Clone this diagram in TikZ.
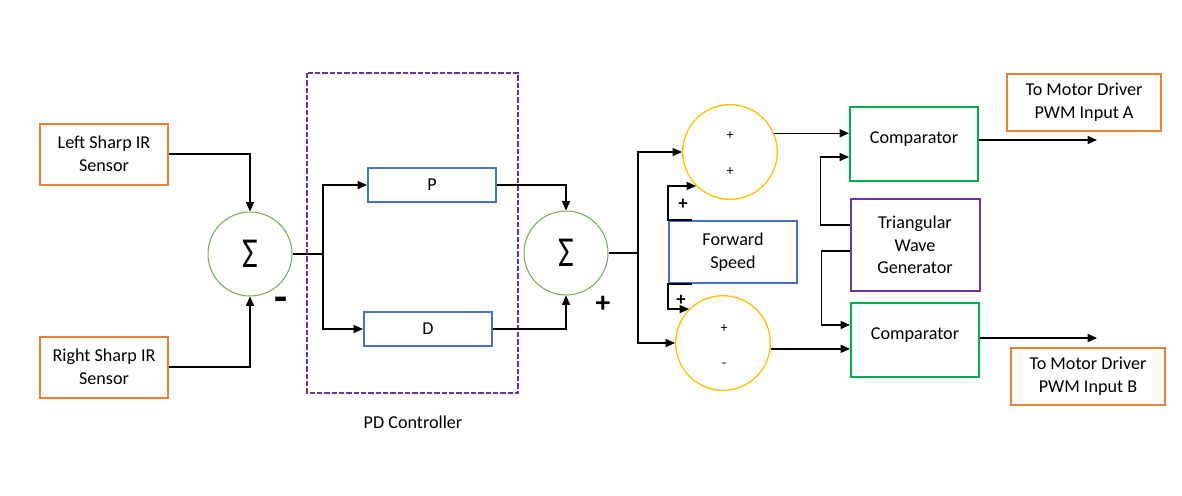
\documentclass[tikz,border=0pt]{standalone}
\usepackage{fontspec}
\setmainfont{Carlito}
\usetikzlibrary{arrows.meta, positioning, calc}

\definecolor{ofcorange}{HTML}{ED7D31}
\definecolor{ofcgreen}{HTML}{70AD47}
\definecolor{ofcblue}{HTML}{4472C4}
\definecolor{ofcyellow}{HTML}{FFC000}
\definecolor{ofcdgreen}{HTML}{00B050}
\definecolor{ofcpurple}{HTML}{7030A0}

\begin{document}
\begin{tikzpicture}[
  x=0.75pt, y=-0.75pt,
  >=Triangle,
  % --- shared block base ---
  blkbase/.style={
    rectangle, line width=1.5pt, align=center, inner sep=2pt,
    font=\fontsize{13.6}{17}\selectfont
  },
  % --- block types ---
  sens/.style={blkbase, draw=ofcorange, minimum width=96pt, minimum height=45.75pt},
  gain/.style={blkbase, draw=ofcblue, minimum width=96pt, minimum height=26pt},
  fwd/.style={blkbase, draw=ofcblue, minimum width=96pt, minimum height=46.5pt},
  comp/.style={blkbase, draw=ofcdgreen, minimum width=96pt, minimum height=56pt,
    text depth=10pt},
  wave/.style={blkbase, draw=ofcpurple, minimum width=96.75pt, minimum height=69pt},
  outbox/.style={blkbase, draw=ofcorange, minimum width=116pt, minimum height=42.75pt},
  % --- summing junctions ---
  sumj/.style={circle, draw=ofcgreen, line width=0.75pt, minimum size=63pt, inner sep=0pt,
    font=\fontsize{32}{32}\selectfont},
  mix/.style={circle, draw=ofcyellow, line width=1pt, minimum size=71pt, inner sep=0pt},
  % --- labels ---
  bigsign/.style={font=\fontsize{22}{22}\selectfont\bfseries, inner sep=0pt},
  midsign/.style={font=\fontsize{14}{14}\selectfont\bfseries, inner sep=0pt},
  smsign/.style={font=\fontsize{10.5}{10.5}\selectfont, inner sep=0pt},
  % --- arrows ---
  arr/.style={->, >={Triangle[length=7pt, width=6pt]}, line width=1pt, draw=black},
  wire/.style={line width=1pt, draw=black},
]
\useasboundingbox (0,0) rectangle (1182,496);

% ===================== SENSORS =====================

\node[sens] (lsens) at (104,154) {Left Sharp IR\\Sensor};
\node[sens] (rsens) at (104,367) {Right Sharp IR\\Sensor};

\node[sumj] (sum1) at (250,254) {\scalebox{0.8}[1]{Σ}};
\node[bigsign, font=\fontsize{32}{32}\selectfont\bfseries] (minus1) at (281,304) {-};

\draw[arr] (lsens.east) -| (sum1.north);
\draw[arr] (rsens.east) -| (sum1.south);

% ===================== PD CONTROLLER =====================

\node[gain] (pgain) at (432,185) {P};
\node[gain] (dgain) at (428,329) {D};
\coordinate (split1) at (323,254);

\draw[wire] (sum1.east) -- (split1);
\draw[arr] (split1) |- (pgain.west);
\draw[arr] (split1) |- (dgain.west);

\draw[ofcpurple, line width=1.5pt, dash pattern=on 4pt off 1.5pt]
  (307,73) rectangle (518,393);
\node[font=\fontsize{13.6}{17}\selectfont] (pdlbl) at (413,422) {PD Controller};

\node[sumj] (sum2) at (566,253) {\scalebox{0.8}[1]{Σ}};
\node[bigsign] (plus2) at (603,304) {+};

\draw[arr] (pgain.east) -| (sum2.north);
\draw[arr] (dgain.east) -| (sum2.south);

% ===================== SPEED MIXING =====================

\node[mix] (mixa) at (730,152) {};
\node[mix] (mixb) at (723,343) {};
\node[smsign] (mixa1) at (730,136) {+};
\node[smsign] (mixa2) at (730,172) {+};
\node[smsign] (mixb1) at (724,329) {+};
\node[smsign] (mixb2) at (724,365) {-};

\node[fwd] (fwd) at (733,252) {Forward\\Speed};
\node[midsign] (fplus1) at (683,204) {+};
\node[midsign] (fplus2) at (681,300) {+};

\coordinate (split2) at (638,253);
\draw[wire] (sum2.east) -- (split2);
\draw[arr] (split2) |- (mixa.west);
\draw[arr] (split2) |- (mixb.west);

\draw[arr] ([xshift=18pt]fwd.north west) -- (fwd.north west) |- (mixa.south west);
\draw[arr] ([xshift=18pt]fwd.south west) -- (fwd.south west) |- (mixb.north west);

% ===================== PWM STAGE =====================

\node[comp] (compa) at (914,144) {Comparator};
\node[comp] (compb) at (915,340) {Comparator};
\node[wave] (tri) at (915,245) {Triangular\\Wave\\Generator};

\draw[arr] (mixa.23) -- (mixa.23 -| compa.west);
\draw[arr] (mixb.-7) -- (mixb.-7 -| compb.west);

\draw[arr] ([yshift=15pt]tri.west) -- ++(-22pt,0) |- ([yshift=-9.75pt]compa.west);
\draw[arr] ([yshift=-4.5pt]tri.west) -- ++(-21pt,0) |- ([yshift=11.25pt]compb.west);

% ===================== OUTPUTS =====================

\node[outbox] (outa) at (1084,102) {To Motor Driver\\PWM Input A};
\node[outbox] (outb) at (1088,376) {To Motor Driver\\PWM Input B};
\coordinate (enda) at (1097,140);
\coordinate (endb) at (1097,338);

\draw[arr] (compa.east |- enda) -- (enda);
\draw[arr] (compb.east |- endb) -- (endb);

\end{tikzpicture}
\end{document}
